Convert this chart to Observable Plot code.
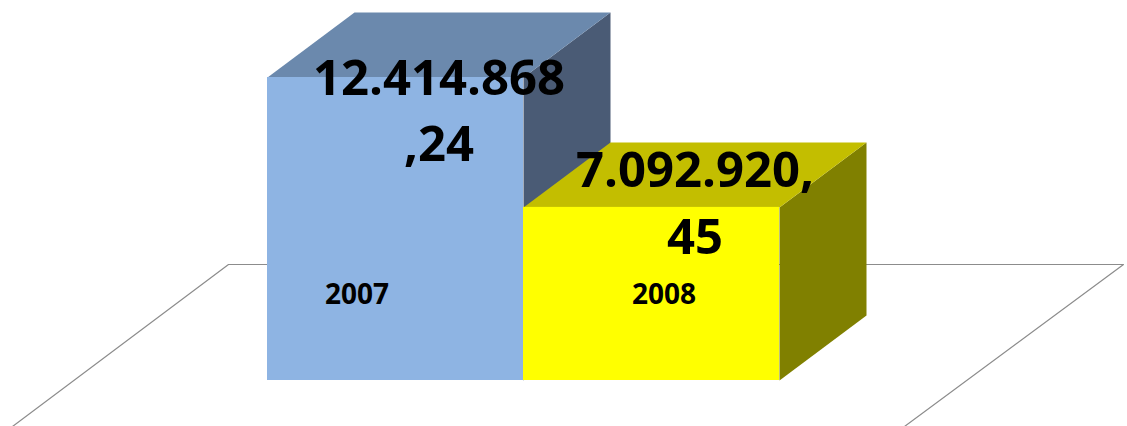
<!DOCTYPE html>
<html>
<head>
<meta charset="utf-8">
<script src="https://cdn.jsdelivr.net/npm/d3@7"></script>
<script src="https://cdn.jsdelivr.net/npm/@observablehq/plot@0.6"></script>
<style>
  html, body { margin: 0; padding: 0; background: #ffffff; }
  #chart svg { display: block; overflow: hidden; }
</style>
</head>
<body>
<div id="chart"></div>
<script>
// ---- data ----
const years = ["2007", "2008"];
const values = [12414868.24, 7092920.45];
const frontColors = ["#8EB4E3", "#FFFF00"];
const topColors = ["#6B89AD", "#C3BE00"];
const sideColors = ["#4A5B75", "#808000"];

// ---- layout ----
const W = 1127, H = 426;
const maxV = d3.max(values);
const xDomain = [0, years.length], xRange = [267, 779];
const yDomain = [0, maxV], yRange = [380, 77];
const xs = d3.scaleLinear(xDomain, xRange);
const ys = d3.scaleLinear(yDomain, yRange);
const depthPxX = 87, depthPxY = 65;            // 3-D depth of the bars
const dX = xs.invert(xRange[0] + depthPxX) - xDomain[0];
const dY = ys.invert(yRange[0] - depthPxY);

const labelFont = 49, capH = 0.72 * labelFont, topLimit = 47;
const fmt = new Intl.NumberFormat("de-DE", {minimumFractionDigits: 2, maximumFractionDigits: 2});
function wrap(s) { return s.length > 10 ? s.slice(0, 10) + "\n" + s.slice(10) : s; }

const bars = years.map((year, i) => ({year, i, v: values[i]}));

const marks = [];

// floor outline (frame), drawn through the scales
const fb = 264;               // back edge of the floor, px
const floorPts = [
  [12, 426], [228, fb], [1123, fb], [904, 426]
].map(([px, py], k) => ({k, x: xs.invert(px), y: ys.invert(py)}));
marks.push(Plot.line(floorPts, {x: "x", y: "y", stroke: "#8c8c8c", strokeWidth: 1.2}));

bars.forEach(b => {
  const {i, v} = b;
  const side = [
    {x: i + 1, y: v}, {x: i + 1 + dX, y: v + dY}, {x: i + 1 + dX, y: dY}, {x: i + 1, y: 0}
  ];
  const top = [
    {x: i, y: v}, {x: i + dX, y: v + dY}, {x: i + 1 + dX, y: v + dY}, {x: i + 1, y: v}
  ];
  marks.push(Plot.line(side, {x: "x", y: "y", curve: "linear-closed", fill: sideColors[i], stroke: "none"}));
  marks.push(Plot.line(top, {x: "x", y: "y", curve: "linear-closed", fill: topColors[i], stroke: "none"}));
  marks.push(Plot.rect([b], {x1: d => d.i, x2: d => d.i + 1, y1: 0, y2: d => d.v, fill: frontColors[i]}));
});

// value labels, centred on the top face, clamped to the chart top
const valueLabels = bars.map(b => {
  const cyPx = ys(b.v + dY / 2);
  const topPx = Math.max(cyPx - capH, topLimit);
  return {x: b.i + 0.5 + dX / 2, y: ys.invert(topPx), text: wrap(fmt.format(b.v))};
});
marks.push(Plot.text(valueLabels, {
  x: "x", y: "y", text: "text", lineAnchor: "top", textAnchor: "middle",
  fontSize: labelFont, fontWeight: "bold", fill: "#000", lineHeight: 1.36
}));

// category labels (perspective axis plane)
const mid = years.length / 2;
const catLabels = bars.map(b => ({x: mid + (b.i + 0.5 - mid) * 1.2, y: ys.invert(295), text: b.year}));
marks.push(Plot.text(catLabels, {
  x: "x", y: "y", text: "text", dx: -13, textAnchor: "middle", lineAnchor: "middle",
  fontSize: 28, fontWeight: "bold", fill: "#000"
}));

const chart = Plot.plot({
  width: W, height: H,
  margin: 0,
  style: {fontFamily: "'Open Sans', sans-serif", background: "#ffffff", overflow: "hidden"},
  x: {type: "linear", domain: xDomain, range: xRange, axis: null},
  y: {type: "linear", domain: yDomain, range: yRange, axis: null},
  marks
});
document.getElementById("chart").appendChild(chart);
</script>
</body>
</html>
